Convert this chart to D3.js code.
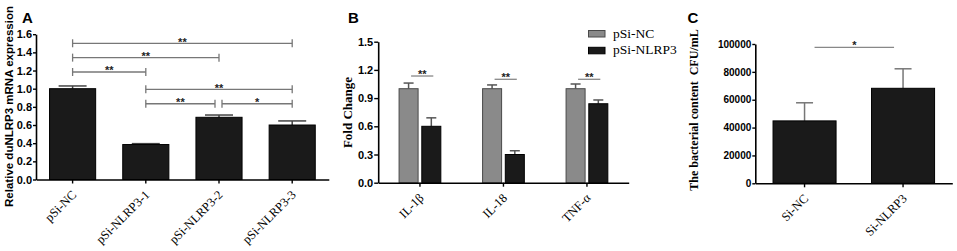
<!DOCTYPE html>
<html><head><meta charset="utf-8">
<script src="https://cdn.jsdelivr.net/npm/d3@7"></script>
<style>body{margin:0;background:#fff} svg{display:block}</style>
</head><body>
<svg id="c" width="957" height="251"></svg>
<script>
// ---------- Panel A data ----------
const catsA = ["pSi-NC", "pSi-NLRP3-1", "pSi-NLRP3-2", "pSi-NLRP3-3"];
const valsA = [1.0, 0.385, 0.685, 0.60];
const errA  = [0.03, 0.01, 0.025, 0.045];
const ticksA = [0, 0.2, 0.4, 0.6, 0.8, 1.0, 1.2, 1.4, 1.6];
const sigA = [
  {a: "pSi-NC", b: "pSi-NLRP3-3", level: 1.50, label: "**"},
  {a: "pSi-NC", b: "pSi-NLRP3-2", level: 1.342, label: "**"},
  {a: "pSi-NC", b: "pSi-NLRP3-1", level: 1.184, label: "**"},
  {a: "pSi-NLRP3-1", b: "pSi-NLRP3-3", level: 0.993, label: "**"},
  {a: "pSi-NLRP3-1", b: "pSi-NLRP3-2", level: 0.834, label: "**"},
  {a: "pSi-NLRP3-2", b: "pSi-NLRP3-3", level: 0.834, label: "*"}
];
// ---------- Panel B data ----------
const catsB = ["IL-1β", "IL-18", "TNF-α"];
const seriesB = ["pSi-NC", "pSi-NLRP3"];
const valsB_NC = [1.0, 1.0, 1.0];
const errB_NC  = [0.06, 0.04, 0.05];
const valsB_KD = [0.60, 0.30, 0.84];
const errB_KD  = [0.09, 0.04, 0.04];
const ticksB = [0, 0.3, 0.6, 0.9, 1.2, 1.5];
const sigB = [1.135, 1.10, 1.10];
const sigLabelsB = ["**", "**", "**"];
// ---------- Panel C data ----------
const catsC = ["Si-NC", "Si-NLRP3"];
const valsC = [44800, 68200];
const errC  = [13000, 14000];
const ticksC = [0, 20000, 40000, 60000, 80000, 100000];
const sigC = {a: "Si-NC", b: "Si-NLRP3", level: 97600, label: "*"};

const svg = d3.select("#c");
const SANS = "'Liberation Sans', Arial, sans-serif";
const SERIF = "'Liberation Serif', 'Times New Roman', serif";

function yAxis(g, y, ticks, fmt, size, fs) {
  const ax = d3.axisLeft(y).tickValues(ticks).tickFormat(fmt).tickSize(size).tickPadding(1).tickSizeOuter(0);
  g.call(ax);
  g.select(".domain").attr("stroke", "#000").attr("stroke-width", 1.6);
  g.selectAll(".tick line").attr("stroke", "#000").attr("stroke-width", 1.4);
  g.selectAll(".tick text").attr("font-family", SANS).attr("font-weight", "bold")
    .attr("font-size", fs).attr("fill", "#000");
}
function xAxis(g, x, y0) {
  const ax = d3.axisBottom(x).tickSize(4).tickSizeOuter(0).tickFormat("");
  g.attr("transform", `translate(0,${y0})`).call(ax);
  g.select(".domain").attr("stroke", "#000").attr("stroke-width", 1.6);
  g.selectAll(".tick line").attr("stroke", "#000").attr("stroke-width", 1.4);
  g.selectAll(".tick text").remove();
  const lab = g.selectAll(".xl").data(x.domain()).enter().append("g").attr("class", "xl")
    .attr("transform", d => `translate(${x(d) + x.bandwidth() / 2 + 4.5},16) rotate(-45)`);
  lab.append("text").text(d => d).attr("text-anchor", "end")
    .attr("font-family", SERIF).attr("font-size", 12.5).attr("fill", "#000");
}
function errBars(g, data, cx, y, capW, color) {
  const s = g.selectAll(null).data(data).enter().append("g");
  s.append("line").attr("x1", d => cx(d)).attr("x2", d => cx(d))
    .attr("y1", d => y(d.v)).attr("y2", d => y(d.v + d.e))
    .attr("stroke", color).attr("stroke-width", 1.5);
  s.append("line").attr("x1", d => cx(d) - capW / 2).attr("x2", d => cx(d) + capW / 2)
    .attr("y1", d => y(d.v + d.e)).attr("y2", d => y(d.v + d.e))
    .attr("stroke", color).attr("stroke-width", 1.5);
}
function panelLabel(t, x, yb) {
  svg.append("text").attr("x", x).attr("y", yb).text(t)
    .attr("font-family", SANS).attr("font-weight", "bold").attr("font-size", 15).attr("fill", "#000");
}
function yTitle(t, x, yc, font, fs, bold) {
  svg.append("text").attr("transform", `translate(${x},${yc}) rotate(-90)`)
    .attr("text-anchor", "middle").text(t).style("white-space", "pre")
    .attr("font-family", font).attr("font-weight", bold ? "bold" : "normal")
    .attr("font-size", fs).attr("fill", "#000");
}

// ================= Panel A =================
{
  const y = d3.scaleLinear().domain([0, 1.6]).range([179.5, 34.2]);
  const x = d3.scaleBand().domain(catsA).range([36, 328.8]).paddingInner(0.37).paddingOuter(0.185);
  const g = svg.append("g");
  const data = catsA.map((c, i) => ({c, v: valsA[i], e: errA[i]}));
  errBars(g, data, d => x(d.c) + x.bandwidth() / 2, y, 28, "#444");
  g.selectAll(null).data(data).enter().append("rect")
    .attr("x", d => x(d.c)).attr("width", x.bandwidth())
    .attr("y", d => y(d.v)).attr("height", d => y(0) - y(d.v))
    .attr("fill", "#1a1a1a").attr("stroke", "#000").attr("stroke-width", 1);
  const cx = c => x(c) + x.bandwidth() / 2;
  sigA.forEach(s => {
    let x1 = cx(s.a), x2 = cx(s.b);
    if (sigA.some(o => o !== s && o.level === s.level && o.a === s.b)) x2 -= 4;
    if (sigA.some(o => o !== s && o.level === s.level && o.b === s.a)) x1 += 3;
    const yy = y(s.level);
    g.append("line").attr("x1", x1).attr("x2", x2).attr("y1", yy).attr("y2", yy)
      .attr("stroke", "#777").attr("stroke-width", 1.3);
    [x1, x2].forEach(xx => g.append("line").attr("x1", xx).attr("x2", xx)
      .attr("y1", yy - 4).attr("y2", yy + 4).attr("stroke", "#777").attr("stroke-width", 1.3));
    g.append("text").attr("x", (x1 + x2) / 2).attr("y", yy + 2.5).attr("text-anchor", "middle")
      .text(s.label).attr("font-family", SANS).attr("font-weight", "bold").attr("font-size", 11).attr("fill", "#222");
  });
  yAxis(svg.append("g").attr("transform", "translate(36,0)"), y, ticksA, d3.format(".1f"), 3, 11);
  xAxis(svg.append("g"), x, 179.5);
  panelLabel("A", 22, 23);
  yTitle("Relative duNLRP3 mRNA expression", 12.5, 106.5, SANS, 11.5, true);
}

// ================= Panel B =================
{
  const y = d3.scaleLinear().domain([0, 1.5]).range([182.7, 41.7]);
  const x0 = d3.scaleBand().domain(catsB).range([378.2, 628.7]).paddingInner(0.5).paddingOuter(0.25);
  const x1 = d3.scaleBand().domain(seriesB).range([0, x0.bandwidth()]).paddingInner(0.163);
  const colors = {"pSi-NC": "#8a8a8a", "pSi-NLRP3": "#1a1a1a"};
  const strokes = {"pSi-NC": "#4a4a4a", "pSi-NLRP3": "#000"};
  const g = svg.append("g");
  const data = [];
  catsB.forEach((c, i) => {
    data.push({c, s: "pSi-NC", v: valsB_NC[i], e: errB_NC[i]});
    data.push({c, s: "pSi-NLRP3", v: valsB_KD[i], e: errB_KD[i]});
  });
  const cx = d => x0(d.c) + x1(d.s) + x1.bandwidth() / 2;
  errBars(g, data, cx, y, 10, "#555");
  g.selectAll(null).data(data).enter().append("rect")
    .attr("x", d => x0(d.c) + x1(d.s)).attr("width", x1.bandwidth())
    .attr("y", d => y(d.v)).attr("height", d => y(0) - y(d.v))
    .attr("fill", d => colors[d.s]).attr("stroke", d => strokes[d.s]).attr("stroke-width", 1);
  catsB.forEach((c, i) => {
    const xa = x0(c) + x1("pSi-NC") + x1.bandwidth() / 2 + 2.5;
    const xb = x0(c) + x1("pSi-NLRP3") + x1.bandwidth() / 2 + 2;
    const yy = y(sigB[i]);
    g.append("line").attr("x1", xa).attr("x2", xb).attr("y1", yy).attr("y2", yy)
      .attr("stroke", "#888").attr("stroke-width", 1.3);
    g.append("text").attr("x", (xa + xb) / 2).attr("y", yy + 1.5).attr("text-anchor", "middle")
      .text(sigLabelsB[i]).attr("font-family", SANS).attr("font-weight", "bold").attr("font-size", 11).attr("fill", "#222");
  });
  yAxis(svg.append("g").attr("transform", "translate(378.2,0)"), y, ticksB, d3.format(".1f"), 4, 11);
  xAxis(svg.append("g"), x0, 182.7);
  const lg = svg.append("g");
  seriesB.forEach((s, i) => {
    lg.append("rect").attr("x", 588.5).attr("y", 30.5 + i * 16.8).attr("width", 16.5).attr("height", 6.5)
      .attr("fill", colors[s]).attr("stroke", strokes[s]).attr("stroke-width", 1);
    lg.append("text").attr("x", 613).attr("y", 37.5 + i * 16.5).text(s)
      .attr("font-family", SERIF).attr("font-size", 13.5).attr("fill", "#000");
  });
  panelLabel("B", 348, 22.7);
  yTitle("Fold Change", 351.5, 112.5, SERIF, 13, true);
}

// ================= Panel C =================
{
  const y = d3.scaleLinear().domain([0, 100000]).range([183.3, 44]);
  const x = d3.scaleBand().domain(catsC).range([755.3, 952.3]).paddingInner(0.36).paddingOuter(0.18);
  const g = svg.append("g");
  const data = catsC.map((c, i) => ({c, v: valsC[i], e: errC[i]}));
  const cx = d => x(d.c) + x.bandwidth() / 2;
  errBars(g, data, cx, y, 17, "#777");
  g.selectAll(null).data(data).enter().append("rect")
    .attr("x", d => x(d.c)).attr("width", x.bandwidth())
    .attr("y", d => y(d.v)).attr("height", d => y(0) - y(d.v))
    .attr("fill", "#1a1a1a").attr("stroke", "#000").attr("stroke-width", 1);
  const xa = x(sigC.a) + x.bandwidth() / 2 + 10, xb = x(sigC.b) + x.bandwidth() / 2 - 9;
  const yy = y(sigC.level);
  g.append("line").attr("x1", xa).attr("x2", xb).attr("y1", yy).attr("y2", yy)
    .attr("stroke", "#888").attr("stroke-width", 1.3);
  g.append("text").attr("x", (xa + xb) / 2).attr("y", yy + 1.5).attr("text-anchor", "middle")
    .text(sigC.label).attr("font-family", SANS).attr("font-weight", "bold").attr("font-size", 11).attr("fill", "#222");
  yAxis(svg.append("g").attr("transform", "translate(755.3,0)"), y, ticksC, d3.format("d"), 3, 10);
  xAxis(svg.append("g"), x, 183.3);
  panelLabel("C", 687.5, 22.7);
  yTitle("The bacterial content  CFU/mL", 697.5, 110, SERIF, 12, true);
}
</script>
</body></html>
